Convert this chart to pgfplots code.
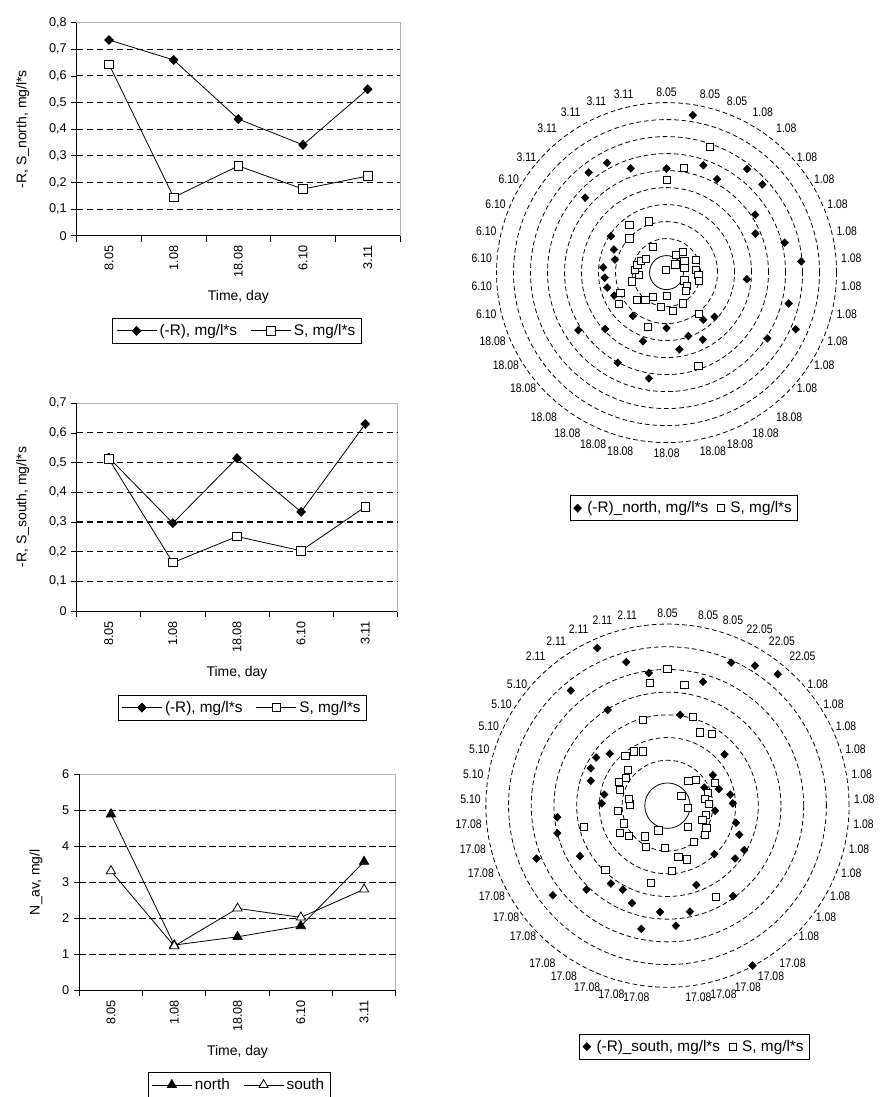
\documentclass[border=0pt]{standalone}
\usepackage{fontspec}
\setmainfont{Liberation Sans}
\usepackage{pgfplots}
\usepackage{pgfplotstable}
\pgfplotsset{compat=1.18}
\usepgfplotslibrary{polar}

\makeatletter
\def\radaranchor{%
 \pgfmathsetmacro\rc{cos(\tick)}%
 \pgfmathsetmacro\rs{sin(\tick)}%
 \ifdim\rc pt>0.02pt
   \ifdim\rs pt>0.75pt \def\ranc{south west}\else
   \ifdim\rs pt<-0.75pt \def\ranc{north west}\else \def\ranc{west}\fi\fi
 \else\ifdim\rc pt<-0.02pt
   \ifdim\rs pt>0.75pt \def\ranc{south east}\else
   \ifdim\rs pt<-0.75pt \def\ranc{north east}\else \def\ranc{east}\fi\fi
 \else
   \ifdim\rs pt>0pt \def\ranc{south}\else\def\ranc{north}\fi
 \fi\fi
 \edef\rtmp{\noexpand\tikzset{anchor=\ranc}}\rtmp}
\makeatother

\pgfplotstableread{
a R S
90 0.612 0.543
80.526 0.939 0.625
71.053 0.667 0.781
61.579 0.625 0.118
52.105 0.772 0.155
42.632 0.766 0.071
33.158 0.623 0.125
23.684 0.571 0.187
14.211 0.717 0.108
4.737 0.795 0.174
355.263 0.474 0.188
345.789 0.741 0.194
336.316 0.830 0.115
326.842 0.708 0.145
317.368 0.384 0.158
307.895 0.351 0.309
298.421 0.448 0.206
288.947 0.395 0.579
279.474 0.458 0.229
270 0.326 0.139
260.526 0.631 0.205
251.053 0.427 0.340
241.579 0.603 0.164
232.105 0.323 0.202
222.632 0.490 0.236
213.158 0.620 0.334
203.684 0.336 0.296
194.211 0.360 0.209
184.737 0.365 0.163
175.263 0.374 0.185
165.789 0.313 0.177
156.316 0.338 0.167
146.842 0.391 0.147
137.368 0.651 0.297
127.895 0.746 0.356
118.421 0.734 0.171
108.947 0.648 0.319
99.474 nan 0.015
}\northtab

\pgfplotstableread{
a R S
90 nan 0.601
82 0.404 0.537
74 0.568 0.408
66 0.690 0.353
58 0.727 0.372
50 0.756 0.144
42 0.338 0.170
34 0.241 0.074
26 0.181 0.232
18 0.238 0.186
10 0.281 0.169
2 0.288 0.181
354 0.211 0.089
346 0.311 0.175
338 0.341 0.166
330 0.391 0.198
322 0.378 0.208
314 0.297 0.129
306 0.492 0.198
298 0.798 0.455
290 0.372 0.252
282 0.477 0.232
274 0.530 0.287
266 0.469 0.187
258 0.555 0.348
250 0.457 0.116
242 0.419 0.204
234 0.424 0.167
226 0.514 0.393
218 0.641 0.214
210 0.445 0.240
202 0.622 0.208
194 0.500 0.381
186 0.488 0.220
178 0.290 0.165
170 0.283 0.173
162 0.355 0.221
154 0.376 0.239
146 0.379 0.221
138 0.342 0.236
130 0.662 0.288
122 0.497 0.282
114 0.760 0.262
106 0.658 0.393
98 0.590 0.546
}\southtab

\pgfplotsset{
 lc/.style={
  scale only axis, anchor=south west,
  xmin=0.5, xmax=5.5,
  xtick={1,2,3,4,5},
  xticklabels={8.05,1.08,18.08,6.10,3.11},
  minor xtick={0.5,1.5,2.5,3.5,4.5,5.5},
  major x tick style={draw=none},
  minor x tick style={black, line width=0.6pt},
  y tick style={black, line width=0.6pt},
  tick align=outside,
  major tick length=4pt, minor tick length=4.5pt,
  xtick pos=left, ytick pos=left,
  x tick label style={rotate=90, anchor=east, font=\fontsize{9.5}{10}\selectfont},
  y tick label style={font=\fontsize{9.5}{10}\selectfont},
  /pgf/number format/assume math mode=true,
  yticklabel style={/pgf/number format/.cd, use comma, fixed, precision=1},
  label style={font=\fontsize{10.5}{12}\selectfont},
  xlabel={Time, day},
  xlabel style={yshift=-3pt},
  axis line style={gray!60, line width=0.6pt},
  extra y tick labels={},
  extra y tick style={ymajorgrids=true, major grid style={black, line width=0.8pt, dash pattern=on 5pt off 2.5pt}},
  legend columns=2,
  legend style={anchor=center, draw=black, line width=0.6pt, inner sep=2.5pt,
    font=\fontsize{11.5}{12.5}\selectfont,
    /tikz/every even column/.append style={column sep=8pt}},
  legend image code/.code={\draw[mark repeat=2,mark phase=2,##1] plot coordinates {(0pt,0pt) (15pt,0pt) (30pt,0pt)};},
  after end axis/.code={\draw[black,line width=0.6pt] (rel axis cs:0,1) -- (rel axis cs:0,0) -- (rel axis cs:1,0);},
 },
 radar/.style={
  scale only axis, anchor=center,
  xmin=0, xmax=360, ymin=0,
  axis line style={draw=none},
  xmajorgrids=false, xminorgrids=false, yminorgrids=false,
  ymajorgrids=true,
  major grid style={black, line width=0.6pt, dash pattern=on 3.5pt off 2.2pt},
  yticklabels={},
  tick style={draw=none},
  x tick label style={font=\fontsize{9.3}{10}\selectfont, xscale=0.84, inner sep=4.5pt, /utils/exec=\radaranchor},
  extra y ticks={0.1}, extra y tick labels={},
  extra y tick style={major grid style={black, solid, line width=0.6pt}},
  legend columns=2,
  legend style={anchor=center, draw=black, line width=0.6pt, inner sep=2.5pt,
    font=\fontsize{11.5}{12.5}\selectfont,
    /tikz/every even column/.append style={column sep=4pt}},
  legend image code/.code={\draw[##1] plot coordinates {(3pt,0pt)}; \path (0pt,0pt) (8pt,0pt);},
 },
}

\begin{document}
\begin{tikzpicture}
\useasboundingbox (0,0) rectangle (661.5pt,822.75pt);

% ---- Chart 1 ----
\begin{axis}[lc, at={(57.5pt,646pt)}, width=242.5pt, height=159.75pt,
  ymin=0, ymax=0.8, ytick={0,0.1,0.2,0.3,0.4,0.5,0.6,0.7,0.8},
  extra y ticks={0.1,0.2,0.3,0.4,0.5,0.6,0.7},
  ylabel={-R, S\_north, mg/l*s},
  legend style={at={(0.496,-0.447)}}]
\addplot[black, line width=0.6pt, mark=diamond*, mark size=3.3pt, mark options={solid, xscale=1.3}]
  coordinates {(1,0.735) (2,0.660) (3,0.438) (4,0.341) (5,0.550)};
\addplot[black, line width=0.6pt, mark=square*, mark size=3.2pt, mark options={solid, fill=white}]
  coordinates {(1,0.644) (2,0.144) (3,0.262) (4,0.175) (5,0.224)};
\legend{{(-R), mg/l*s},{S, mg/l*s}}
\end{axis}

% ---- Chart 2 ----
\begin{axis}[lc, at={(57.5pt,364.5pt)}, width=240.5pt, height=155.8pt,
  ymin=0, ymax=0.7, ytick={0,0.1,0.2,0.3,0.4,0.5,0.6,0.7},
  extra y ticks={0.1,0.2,0.3,0.4,0.5,0.6},
  ylabel={-R, S\_south, mg/l*s},
  legend style={at={(0.517,-0.465)}}]
\addplot[black, line width=0.6pt, mark=diamond*, mark size=3.3pt, mark options={solid, xscale=1.3}]
  coordinates {(1,0.517) (2,0.296) (3,0.515) (4,0.334) (5,0.630)};
\addplot[black, line width=0.6pt, mark=square*, mark size=3.2pt, mark options={solid, fill=white}]
  coordinates {(1,0.513) (2,0.163) (3,0.251) (4,0.203) (5,0.351)};
\legend{{(-R), mg/l*s},{S, mg/l*s}}
\end{axis}

% ---- Chart 3 ----
\begin{axis}[lc, at={(59.5pt,80.25pt)}, width=237.3pt, height=161.8pt,
  ymin=0, ymax=6, ytick={0,1,2,3,4,5,6},
  extra y ticks={1,2,3,4,5},
  ylabel={N\_av, mg/l},
  legend style={at={(0.505,-0.44)}}]
\addplot[black, line width=0.6pt, mark=triangle*, mark size=4pt, mark options={solid}]
  coordinates {(1,4.89) (2,1.25) (3,1.48) (4,1.78) (5,3.57)};
\addplot[black, line width=0.6pt, mark=triangle*, mark size=4pt, mark options={solid, fill=white}]
  coordinates {(1,3.31) (2,1.22) (3,2.27) (4,2.02) (5,2.80)};
\legend{north,south}
\end{axis}

% ---- Radar north ----
\begin{polaraxis}[radar, at={(499.9pt,618.3pt)}, width=255pt, height=255pt,
  ymax=1, ytick={0.2,0.3,0.4,0.5,0.6,0.7,0.8,0.9,1},
  xtick={90,80.526,71.053,61.579,52.105,42.632,33.158,23.684,14.211,4.737,355.263,345.789,336.316,326.842,317.368,307.895,298.421,288.947,279.474,270,260.526,251.053,241.579,232.105,222.632,213.158,203.684,194.211,184.737,175.263,165.789,156.316,146.842,137.368,127.895,118.421,108.947,99.474},
  xticklabels={8.05,8.05,8.05,1.08,1.08,1.08,1.08,1.08,1.08,1.08,1.08,1.08,1.08,1.08,1.08,18.08,18.08,18.08,18.08,18.08,18.08,18.08,18.08,18.08,18.08,18.08,18.08,6.10,6.10,6.10,6.10,6.10,6.10,3.11,3.11,3.11,3.11,3.11},
  legend style={at={(0.551,-0.193)}}]
\addplot[only marks, mark=diamond*, mark size=2.9pt, mark options={black, xscale=1.3}] table[x=a, y=R] {\northtab};
\addplot[only marks, mark=square*, mark size=2.7pt, mark options={black, fill=white, line width=0.6pt}] table[x=a, y=S] {\northtab};
\legend{{(-R)\_north, mg/l*s},{S, mg/l*s}}
\end{polaraxis}

% ---- Radar south ----
\begin{polaraxis}[radar, at={(500.6pt,218.5pt)}, width=272.4pt, height=272.4pt,
  ymax=0.8, ytick={0.2,0.3,0.4,0.5,0.6,0.7,0.8},
  xtick={90,82,74,66,58,50,42,34,26,18,10,2,354,346,338,330,322,314,306,298,290,282,274,266,258,250,242,234,226,218,210,202,194,186,178,170,162,154,146,138,130,122,114,106,98},
  xticklabels={8.05,8.05,8.05,22.05,22.05,22.05,1.08,1.08,1.08,1.08,1.08,1.08,1.08,1.08,1.08,1.08,1.08,1.08,17.08,17.08,17.08,17.08,17.08,17.08,17.08,17.08,17.08,17.08,17.08,17.08,17.08,17.08,17.08,17.08,5.10,5.10,5.10,5.10,5.10,5.10,2.11,2.11,2.11,2.11,2.11},
  legend style={at={(0.574,-0.1635)}}]
\addplot[only marks, mark=diamond*, mark size=2.9pt, mark options={black, xscale=1.3}] table[x=a, y=R] {\southtab};
\addplot[only marks, mark=square*, mark size=2.7pt, mark options={black, fill=white, line width=0.6pt}] table[x=a, y=S] {\southtab};
\legend{{(-R)\_south, mg/l*s},{S, mg/l*s}}
\end{polaraxis}
\end{tikzpicture}
\end{document}
